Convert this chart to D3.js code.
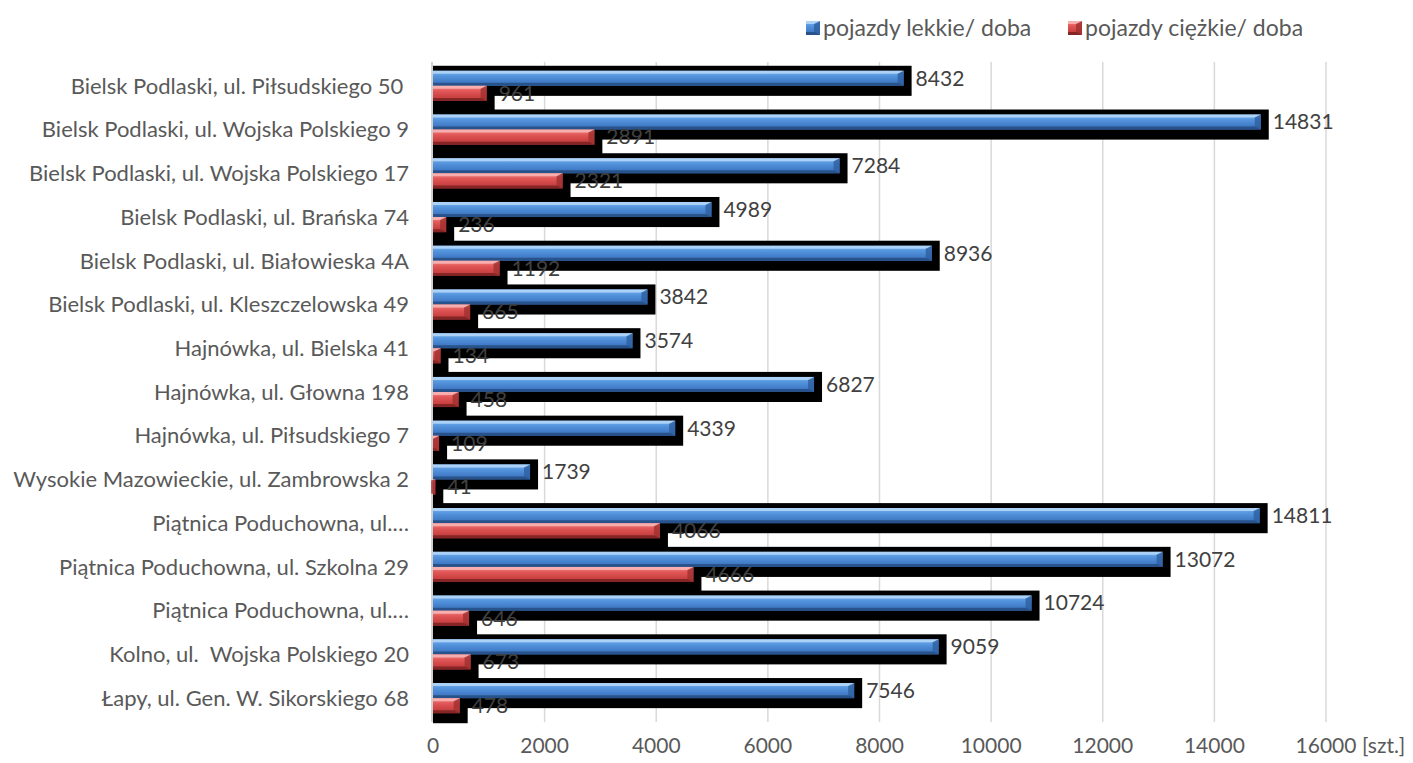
<!DOCTYPE html>
<html><head><meta charset="utf-8">
<script src="https://cdn.jsdelivr.net/npm/d3@7"></script>
<style>
html,body{margin:0;padding:0;background:#fff;}
svg text{font-family:"Lato","Open Sans",sans-serif;}
</style></head>
<body>
<svg id="chart" width="1413" height="763"></svg>
<script>
const categories = [
  "Bielsk Podlaski, ul. Piłsudskiego 50 ",
  "Bielsk Podlaski, ul. Wojska Polskiego 9",
  "Bielsk Podlaski, ul. Wojska Polskiego 17",
  "Bielsk Podlaski, ul. Brańska 74",
  "Bielsk Podlaski, ul. Białowieska 4A",
  "Bielsk Podlaski, ul. Kleszczelowska 49",
  "Hajnówka, ul. Bielska 41",
  "Hajnówka, ul. Głowna 198",
  "Hajnówka, ul. Piłsudskiego 7",
  "Wysokie Mazowieckie, ul. Zambrowska 2",
  "Piątnica Poduchowna, ul.…",
  "Piątnica Poduchowna, ul. Szkolna 29",
  "Piątnica Poduchowna, ul.…",
  "Kolno, ul.  Wojska Polskiego 20",
  "Łapy, ul. Gen. W. Sikorskiego 68"
];
const lightVehicles = [8432, 14831, 7284, 4989, 8936, 3842, 3574, 6827, 4339, 1739, 14811, 13072, 10724, 9059, 7546];
const heavyVehicles = [961, 2891, 2321, 236, 1192, 665, 134, 458, 109, 41, 4066, 4666, 646, 673, 478];
const seriesNames = ["pojazdy lekkie/ doba", "pojazdy ciężkie/ doba"];
const xTicks = [0, 2000, 4000, 6000, 8000, 10000, 12000, 14000, 16000];
const unitLabel = "[szt.]";

const svg = d3.select("#chart");
const textCol = "#595959";
const ids = categories.map((c, i) => i);

const x = d3.scaleLinear().domain([0, 16000]).range([433, 1326]);
const y = d3.scaleBand().domain(ids).range([64, 720]).paddingInner(0.31).paddingOuter(0.155);
const sub = d3.scaleBand().domain([0, 1]).range([0, y.bandwidth()]);

// gradients
const defs = svg.append("defs");
const palettes = [
  {id: "gBlue", stops: ["#7db5ee", "#5596de", "#4580cc", "#3a6fb4"], top: "#b2d6f8", bot: "#264f86", right: "#2f62a3"},
  {id: "gRed", stops: ["#f28a8a", "#e25858", "#cf4545", "#b63a3a"], top: "#f8b4b4", bot: "#7f2222", right: "#a33131"}
];
palettes.forEach(p => {
  const g = defs.append("linearGradient").attr("id", p.id).attr("x1", 0).attr("y1", 0).attr("x2", 0).attr("y2", 1);
  p.stops.forEach((s, i) => g.append("stop").attr("offset", (i / (p.stops.length - 1) * 100) + "%").attr("stop-color", s));
});

// gridlines
svg.append("g").selectAll("line").data(xTicks.filter(t => t > 0)).join("line")
  .attr("x1", d => x(d)).attr("x2", d => x(d))
  .attr("y1", 62).attr("y2", 722)
  .attr("stroke", "#d9d9d9").attr("stroke-width", 1.5);

// axis line (category axis)
svg.append("line").attr("x1", x(0) - 1).attr("x2", x(0) - 1).attr("y1", 62).attr("y2", 722)
  .attr("stroke", "#d0d0d0").attr("stroke-width", 2);

const series = [lightVehicles, heavyVehicles];

// shadows
const shadowG = svg.append("g");
series.forEach((vals, si) => {
  shadowG.selectAll(null).data(ids).join("rect")
    .attr("x", x(0))
    .attr("y", d => y(d) + sub(si) - 5)
    .attr("width", d => x(vals[d]) - x(0) + 8)
    .attr("height", sub.bandwidth() + 15)
    .attr("fill", "#000");
});

// bars with bevel
function bevelBar(g, x0, x1, y0, h, p) {
  const y1 = y0 + h, b = Math.min(3, (x1 - x0) / 2);
  g.append("rect").attr("x", x0).attr("y", y0).attr("width", Math.max(0, x1 - x0)).attr("height", h).attr("fill", "url(#" + p.id + ")");
  g.append("polygon").attr("points", [[x0, y0], [x1, y0], [x1 - b, y0 + b], [x0, y0 + b]].join(" ")).attr("fill", p.top).attr("opacity", 0.9);
  g.append("polygon").attr("points", [[x0, y1], [x1, y1], [x1 - b, y1 - b], [x0, y1 - b]].join(" ")).attr("fill", p.bot).attr("opacity", 0.9);
  g.append("polygon").attr("points", [[x1, y0], [x1, y1], [x1 - b - 3, y1 - b], [x1 - b - 3, y0 + b]].join(" ")).attr("fill", p.right).attr("opacity", 0.85);
}
const barG = svg.append("g");
series.forEach((vals, si) => {
  ids.forEach(d => {
    bevelBar(barG, x(0), x(vals[d]), y(d) + sub(si), sub.bandwidth(), palettes[si]);
  });
});

// data labels
series.forEach((vals, si) => {
  svg.append("g").selectAll("text").data(ids).join("text")
    .attr("x", d => x(vals[d]) + 12)
    .attr("y", d => y(d) + sub(si) + sub.bandwidth() / 2)
    .attr("dy", "0.35em")
    .attr("font-size", 21)
    .attr("fill", "#404040")
    .text(d => vals[d]);
});

// category labels
svg.append("g").selectAll("text").data(ids).join("text")
  .attr("x", 409)
  .attr("y", d => y(d) + y.bandwidth() / 2)
  .attr("dy", "0.35em")
  .attr("text-anchor", "end")
  .attr("font-size", 22)
  .attr("fill", textCol)
  .style("white-space", "pre")
  .text(d => categories[d]);

// x tick labels
svg.append("g").selectAll("text").data(xTicks).join("text")
  .attr("x", d => x(d))
  .attr("y", 746)
  .attr("dy", "0.35em")
  .attr("text-anchor", "middle")
  .attr("font-size", 21)
  .attr("fill", textCol)
  .text(d => d);
svg.append("text").attr("x", 1362).attr("y", 746).attr("dy", "0.35em")
  .attr("font-size", 21).attr("fill", textCol).text(unitLabel);

// legend
const legendX = [806, 1068];
seriesNames.forEach((name, i) => {
  const g = svg.append("g");
  bevelBar(g, legendX[i], legendX[i] + 14, 21, 14, palettes[i]);
  g.append("text").attr("x", legendX[i] + 17).attr("y", 28).attr("dy", "0.35em")
    .attr("font-size", 23).attr("fill", textCol).text(name);
});
</script>
</body></html>
